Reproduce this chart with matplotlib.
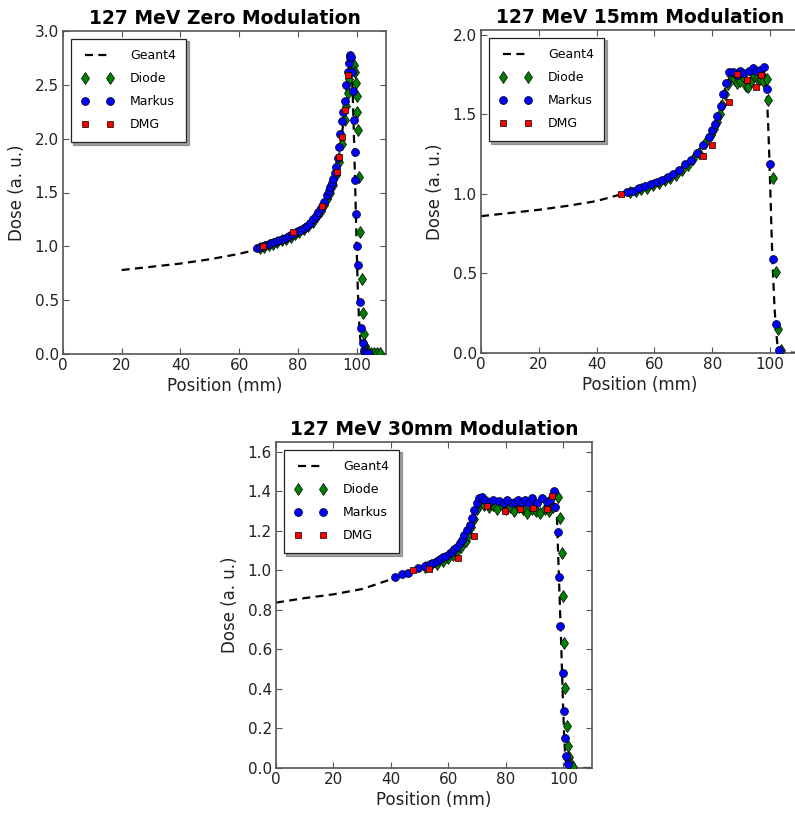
import matplotlib
matplotlib.use("Agg")
import matplotlib.pyplot as plt

# ---------------- Panel 1: 127 MeV Zero Modulation ----------------
g4_zero_x = [20, 30, 40, 50, 60, 66, 70, 75, 80, 85, 88, 90, 92, 93, 94, 95, 96, 97, 97.5, 98,
             98.4, 98.8, 99.2, 99.6, 100.0, 100.4, 100.8, 101.2, 101.6, 102, 103, 110]
g4_zero_y = [0.78, 0.81, 0.84, 0.88, 0.93, 0.97, 1.01, 1.06, 1.13, 1.24, 1.34, 1.45, 1.60, 1.70, 1.84, 2.04, 2.28, 2.56, 2.70, 2.78,
             2.60, 2.30, 1.90, 1.45, 1.00, 0.60, 0.32, 0.15, 0.06, 0.02, 0.005, 0.0]

diode_zero_x = [67, 68.5, 70, 71.5, 73, 74.5, 76, 77.5, 79, 80.5, 82, 83.5, 85, 86.5, 88, 89, 90, 91, 92, 93,
                94, 95, 96, 96.5, 97, 97.5, 98, 98.5, 99.0, 99.4, 99.7, 100.0, 100.1, 100.3, 100.7, 101.2,
                101.8, 102.2, 102.5, 102.9, 103.3, 104, 105, 106, 107, 108]
diode_zero_y = [0.98, 0.995, 1.01, 1.02, 1.04, 1.055, 1.07, 1.09, 1.11, 1.13, 1.16, 1.19, 1.23, 1.28, 1.33, 1.38, 1.44, 1.50, 1.57, 1.66,
                1.78, 1.95, 2.17, 2.30, 2.42, 2.55, 2.65, 2.70, 2.68, 2.62, 2.52, 2.40, 2.25, 2.08, 1.64, 1.13,
                0.70, 0.38, 0.19, 0.07, 0.03, 0.02, 0.01, 0.01, 0.005, 0.005]

markus_zero_x = [66, 67, 68, 69, 70, 71, 72, 73, 74, 75, 76, 77, 78, 79, 80, 81, 82, 83, 84, 85,
                 86, 87, 88, 89, 90, 90.5, 91, 91.5, 92, 92.5, 93, 93.5, 94, 94.5, 95, 95.5, 96, 96.5,
                 97, 97.3, 97.6, 97.9, 98.2, 98.5, 98.8, 99.1, 99.3, 99.6, 99.9, 100.2, 100.5, 101.0,
                 101.6, 102.0, 102.5, 103, 103.5, 104]
markus_zero_y = [0.98, 0.99, 1.0, 1.01, 1.02, 1.03, 1.04, 1.05, 1.06, 1.07, 1.08, 1.095, 1.11, 1.125, 1.14, 1.155, 1.17, 1.19, 1.22, 1.25,
                 1.28, 1.32, 1.36, 1.41, 1.48, 1.51, 1.55, 1.59, 1.63, 1.68, 1.74, 1.82, 1.92, 2.04, 2.16, 2.25, 2.35, 2.50,
                 2.62, 2.70, 2.76, 2.78, 2.76, 2.62, 2.44, 2.17, 1.88, 1.62, 1.30, 1.00, 0.83, 0.48,
                 0.24, 0.10, 0.03, 0.01, 0.01, 0.005]

dmg_zero_x = [68.0, 78.2, 88.1, 93.2, 94.1, 94.9, 96.0, 97.1]
dmg_zero_y = [1.0, 1.13, 1.37, 1.69, 1.83, 2.02, 2.27, 2.59]

# ---------------- Panel 2: 127 MeV 15mm Modulation ----------------
g4_15_x = [0, 10, 20, 30, 40, 48, 55, 60, 65, 70, 75, 78, 80, 82, 84, 86, 88, 90, 92, 94, 96, 97.5,
           98.3, 98.8, 99.3, 99.7, 100.2, 100.6, 101.0, 101.5, 102.0, 102.5, 103, 104, 110]
g4_15_y = [0.86, 0.88, 0.90, 0.925, 0.955, 0.995, 1.035, 1.065, 1.11, 1.175, 1.27, 1.34, 1.40, 1.50, 1.64, 1.73, 1.74, 1.75, 1.74, 1.76, 1.76, 1.77,
           1.75, 1.65, 1.45, 1.25, 0.95, 0.70, 0.50, 0.30, 0.15, 0.06, 0.02, 0.005, 0.0]

diode_15_x = [51.5, 53.5, 55.5, 57.5, 59.5, 61.5, 63.5, 65.5, 67.5, 69.5, 71.5, 73.5, 75.5, 77.5, 79.5, 80.5,
              81.5, 82.5, 83.5, 84.5, 85.5, 86.5, 87.5, 88.5, 89.5, 90.5, 91.5, 92.5, 93.5, 94.5, 95.5,
              96.5, 97.6, 98.8, 99.4, 101.1, 102.1, 102.9, 103.7]
diode_15_y = [1.01, 1.02, 1.03, 1.04, 1.055, 1.07, 1.085, 1.10, 1.12, 1.15, 1.18, 1.22, 1.26, 1.32, 1.37, 1.41,
              1.45, 1.50, 1.56, 1.63, 1.69, 1.74, 1.72, 1.70, 1.71, 1.74, 1.68, 1.67, 1.71, 1.74, 1.73,
              1.72, 1.71, 1.72, 1.59, 1.10, 0.51, 0.15, 0.02]

markus_15_x = [50.4, 52.5, 54.6, 56.6, 58.7, 60.8, 62.5, 64.6, 66.5, 68.6, 70.6, 72.7, 74.6, 76.7, 78.7, 79.8,
               81.0, 81.8, 82.9, 83.8, 84.8, 85.9, 87.1, 88.5, 89.5, 90.6, 92.8, 94.0, 95.2, 96.5, 97.9,
               98.8, 100.0, 100.9, 102.1, 103.2]
markus_15_y = [1.01, 1.02, 1.04, 1.05, 1.06, 1.075, 1.09, 1.105, 1.125, 1.15, 1.185, 1.215, 1.255, 1.305, 1.36, 1.40,
               1.44, 1.49, 1.55, 1.625, 1.70, 1.765, 1.765, 1.75, 1.77, 1.76, 1.77, 1.79, 1.77, 1.78, 1.795,
               1.66, 1.19, 0.59, 0.18, 0.02]

dmg_15_x = [48.3, 76.7, 79.8, 85.9, 88.5, 91.9, 95.2, 96.9]
dmg_15_y = [1.0, 1.24, 1.31, 1.575, 1.755, 1.715, 1.67, 1.745]

# ---------------- Panel 3: 127 MeV 30mm Modulation ----------------
g4_30_x = [0, 10, 20, 30, 35, 40, 45, 50, 55, 60, 63, 66, 68, 70, 72, 75, 80, 85, 90, 95, 97,
           97.6, 98.4, 99.2, 99.9, 100.3, 100.7, 101.2, 102, 110]
g4_30_y = [0.837, 0.86, 0.879, 0.906, 0.93, 0.955, 0.985, 1.01, 1.04, 1.08, 1.11, 1.17, 1.23, 1.31, 1.34, 1.335, 1.33, 1.33, 1.335, 1.34, 1.35,
           1.35, 1.0, 0.665, 0.33, 0.17, 0.05, 0.01, 0.0, 0.0]

diode_30_x = [52, 54, 56, 58, 60, 61.5, 63, 64.5, 66, 67, 68, 69, 70, 71, 72.5, 74, 75.5, 77, 78.5, 80,
              81.5, 83, 84.5, 86, 87.5, 89, 90.5, 92, 93.5, 95, 96.5, 98.0, 98.7, 99.5, 99.9, 100.3,
              100.7, 101.3, 101.5, 102.0, 102.7, 103.4]
diode_30_y = [1.015, 1.025, 1.035, 1.05, 1.065, 1.08, 1.10, 1.12, 1.15, 1.18, 1.22, 1.26, 1.31, 1.34, 1.33, 1.32, 1.33, 1.31, 1.33, 1.31,
              1.32, 1.30, 1.32, 1.31, 1.29, 1.31, 1.30, 1.29, 1.31, 1.30, 1.32, 1.373, 1.264, 1.09, 0.87, 0.634,
              0.403, 0.213, 0.111, 0.054, 0.02, 0.007]

markus_30_x = [41.5, 43.8, 45.8, 49.6, 51.9, 53.7, 54.8, 56.0, 57.1, 58.3, 59.2, 60.4, 61.2, 62.0, 63.0, 63.9,
               64.7, 65.5, 66.5, 67.4, 68.2, 69.0, 69.9, 70.8, 71.7, 72.8, 74.6, 75.7, 77.5, 79.2, 80.4,
               82.1, 83.3, 84.4, 85.6, 86.8, 87.9, 89.1, 90.8, 92.6, 94.3, 95.5, 96.9, 97.2, 98.0, 98.6,
               99.0, 99.9, 100.3, 100.7, 101.0, 101.5]
markus_30_y = [0.968, 0.98, 0.985, 1.011, 1.022, 1.031, 1.039, 1.048, 1.058, 1.066, 1.074, 1.086, 1.095, 1.106, 1.12, 1.137,
               1.154, 1.179, 1.204, 1.23, 1.264, 1.306, 1.34, 1.365, 1.37, 1.356, 1.348, 1.356, 1.352, 1.34, 1.358,
               1.342, 1.348, 1.356, 1.34, 1.356, 1.34, 1.365, 1.34, 1.365, 1.348, 1.358, 1.40, 1.319, 1.193, 0.965,
               0.72, 0.482, 0.288, 0.150, 0.061, 0.02]

dmg_30_x = [47.8, 53.4, 63.2, 68.8, 73.6, 79.8, 84.8, 89.3, 94.3, 96.1]
dmg_30_y = [1.0, 1.005, 1.064, 1.176, 1.326, 1.302, 1.311, 1.316, 1.311, 1.376]

titles = ["127 MeV Zero Modulation", "127 MeV 15mm Modulation", "127 MeV 30mm Modulation"]
series_labels = ["Geant4", "Diode", "Markus", "DMG"]

W, H = 795, 817
fig = plt.figure(figsize=(W / 100, H / 100), dpi=100)

def px_axes(l, t, r, b):
    return fig.add_axes([l / W, 1 - b / H, (r - l) / W, (b - t) / H])

ax1 = px_axes(63, 31, 386, 354)
ax2 = px_axes(481, 30, 799, 353)
ax3 = px_axes(276, 442, 592, 768)

panels = [
    (ax1, g4_zero_x, g4_zero_y, diode_zero_x, diode_zero_y, markus_zero_x, markus_zero_y, dmg_zero_x, dmg_zero_y,
     (0, 3.0), [0.0, 0.5, 1.0, 1.5, 2.0, 2.5, 3.0]),
    (ax2, g4_15_x, g4_15_y, diode_15_x, diode_15_y, markus_15_x, markus_15_y, dmg_15_x, dmg_15_y,
     (0, 2.03), [0.0, 0.5, 1.0, 1.5, 2.0]),
    (ax3, g4_30_x, g4_30_y, diode_30_x, diode_30_y, markus_30_x, markus_30_y, dmg_30_x, dmg_30_y,
     (0, 1.65), [0.0, 0.2, 0.4, 0.6, 0.8, 1.0, 1.2, 1.4, 1.6]),
]

spine_col = "#555555"
for (ax, gx, gy, dx, dy, mx, my, sx, sy, ylim, yticks), title in zip(panels, titles):
    ax.plot(gx, gy, color="black", linestyle=(0, (3.6, 2.4)), linewidth=1.6, label=series_labels[0], zorder=2)
    ax.plot(dx, dy, linestyle="none", marker="d", markersize=6.5, markerfacecolor="#007f00",
            markeredgecolor="black", markeredgewidth=0.5, label=series_labels[1], zorder=3)
    ax.plot(mx, my, linestyle="none", marker="o", markersize=5.7, markerfacecolor="#0000ff",
            markeredgecolor="black", markeredgewidth=0.5, label=series_labels[2], zorder=4)
    ax.plot(sx, sy, linestyle="none", marker="s", markersize=5, markerfacecolor="#ff0000",
            markeredgecolor="black", markeredgewidth=0.5, label=series_labels[3], zorder=5)
    ax.set_xlim(0, 110)
    ax.set_ylim(*ylim)
    ax.set_xticks([0, 20, 40, 60, 80, 100])
    ax.set_yticks(yticks)
    ax.set_yticklabels([f"{v:.1f}" for v in yticks])
    ax.tick_params(direction="in", top=True, right=(ax is not ax2), length=4, width=0.8, color=spine_col,
                   labelsize=11, labelcolor="#222222", pad=3)
    for sp in ax.spines.values():
        sp.set_color(spine_col)
        sp.set_linewidth(1.2)
    ax.set_xlabel("Position (mm)", fontsize=12, color="#222222", labelpad=3)
    ax.set_ylabel("Dose (a. u.)", fontsize=12, color="#222222", labelpad=6)
    ax.set_title(title, fontsize=13.5, fontweight="bold", pad=5)
    leg = ax.legend(loc="upper left", numpoints=2, fontsize=9, shadow=True, fancybox=False,
                    frameon=True, handlelength=2.6, handletextpad=1.3, labelspacing=0.8,
                    borderpad=0.85, borderaxespad=0.6)
    leg.get_frame().set_edgecolor("#222222")
    leg.get_frame().set_linewidth(0.9)

fig.savefig("out.png", dpi=100)
